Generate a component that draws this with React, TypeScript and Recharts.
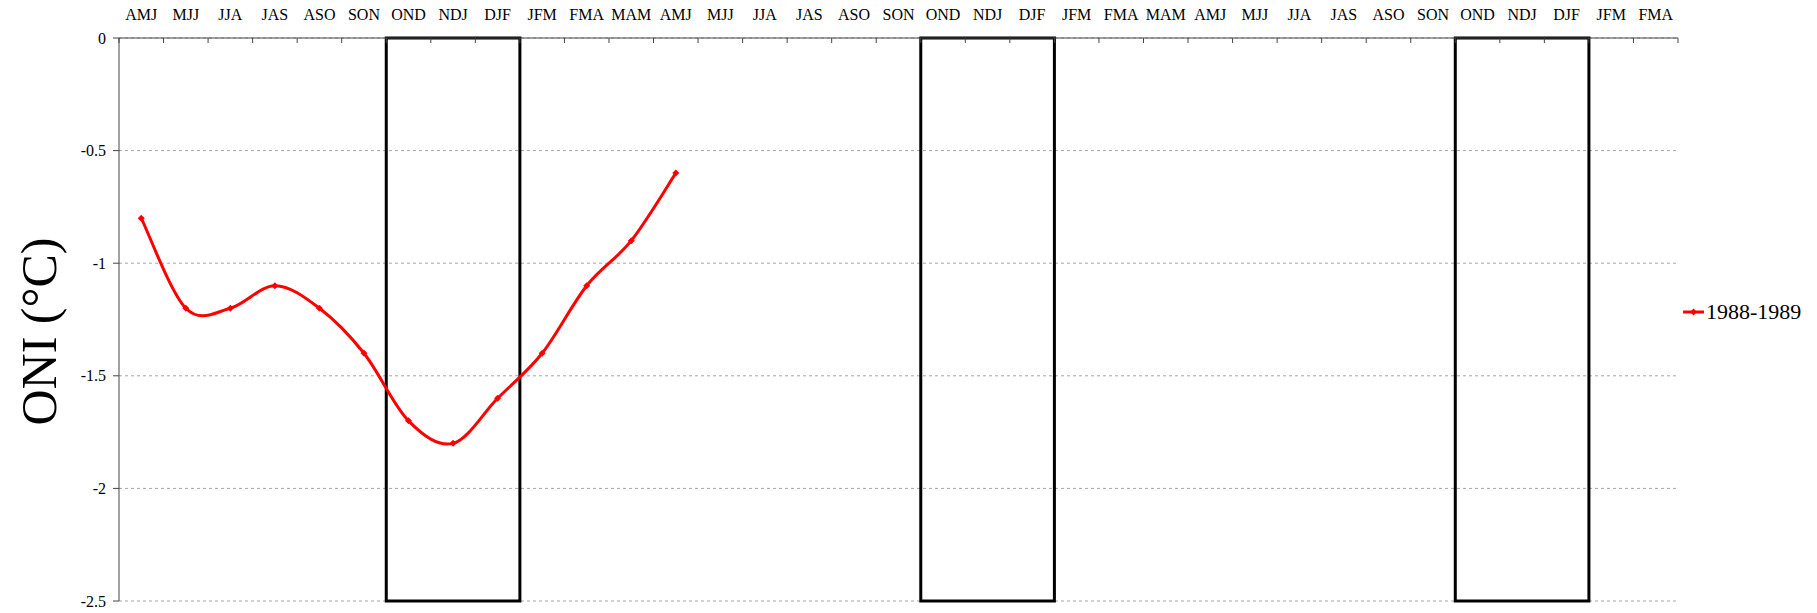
import React from 'react'
import { ComposedChart, Line, XAxis, YAxis, CartesianGrid, Legend, ReferenceArea } from 'recharts'

document.body.style.margin = '0'

const seasons = [
  'AMJ', 'MJJ', 'JJA', 'JAS', 'ASO', 'SON', 'OND', 'NDJ', 'DJF', 'JFM', 'FMA', 'MAM',
  'AMJ', 'MJJ', 'JJA', 'JAS', 'ASO', 'SON', 'OND', 'NDJ', 'DJF', 'JFM', 'FMA', 'MAM',
  'AMJ', 'MJJ', 'JJA', 'JAS', 'ASO', 'SON', 'OND', 'NDJ', 'DJF', 'JFM', 'FMA',
]

// 1988-1989 ONI values, AMJ 1988 .. AMJ 1989
const oni8889 = [-0.8, -1.2, -1.2, -1.1, -1.2, -1.4, -1.7, -1.8, -1.6, -1.4, -1.1, -0.9, -0.6]

const yTicks = [0, -0.5, -1, -1.5, -2, -2.5]

// OND..DJF windows (start index, end index)
const winterBoxes = [[6, 8], [18, 20], [30, 32]]

const data = seasons.map((s, i) => ({ idx: i, season: s, v8889: i < oni8889.length ? oni8889[i] : null }))

const W = 1817
const H = 613
const LEFT = 119
const RIGHT = 139
const TOP = 38
const BOTTOM = 12
const bw = (W - LEFT - RIGHT) / seasons.length
const FONT = '"Liberation Serif", "Times New Roman", serif'

// excel-ish smoothed line (catmull-rom as bezier)
const excelCurve = (context: any) => {
  let pts: number[][] = []
  return {
    areaStart() {},
    areaEnd() {},
    lineStart() { pts = [] },
    point(x: number, y: number) { pts.push([+x, +y]) },
    lineEnd() {
      const n = pts.length
      if (!n) return
      context.moveTo(pts[0][0], pts[0][1])
      for (let i = 0; i < n - 1; i++) {
        const p0 = pts[Math.max(i - 1, 0)], p1 = pts[i], p2 = pts[i + 1], p3 = pts[Math.min(i + 2, n - 1)]
        context.bezierCurveTo(
          p1[0] + (p2[0] - p0[0]) / 6, p1[1] + (p2[1] - p0[1]) / 6,
          p2[0] - (p3[0] - p1[0]) / 6, p2[1] - (p3[1] - p1[1]) / 6,
          p2[0], p2[1])
      }
    },
  }
}

const Diamond = ({ cx, cy }: any) => {
  if (cx == null || cy == null) return null
  const r = 3.5
  return <path d={`M${cx},${cy - r}L${cx + r},${cy}L${cx},${cy + r}L${cx - r},${cy}Z`} fill="#ff0000" />
}

const SeasonTick = ({ x, payload, index }: any) => {
  const label = seasons[payload.value]
  return (
    <g>
      <text x={x} y={20} textAnchor="middle" fontSize={16} fontFamily={FONT} fill="#000">{label}</text>
      <line x1={x - bw / 2} x2={x - bw / 2} y1={TOP} y2={TOP + 5} stroke="#444" />
      {index === seasons.length - 1 && <line x1={x + bw / 2} x2={x + bw / 2} y1={TOP} y2={TOP + 5} stroke="#444" />}
    </g>
  )
}

const renderLegend = () => (
  <div style={{ display: 'flex', alignItems: 'center', fontFamily: FONT, fontSize: 22, color: '#000' }}>
    <svg width={22} height={10} style={{ marginRight: 1 }}>
      <line x1={0} x2={21} y1={5} y2={5} stroke="#ff0000" strokeWidth={3} />
      <path d="M10.5,1.5L14,5L10.5,8.5L7,5Z" fill="#ff0000" />
    </svg>
    <span>1988-1989</span>
  </div>
)

const App: React.FC = () => {
  return (
    <ComposedChart width={W} height={H} data={data}
      margin={{ top: 0, right: RIGHT, bottom: BOTTOM, left: 0 }}>
      <CartesianGrid vertical={false} strokeDasharray="3 3" stroke="#a6a6a6" />
      <XAxis dataKey="idx" type="category" scale="band" orientation="top" height={TOP} interval={0}
        axisLine={{ stroke: '#444' }} tickLine={false} tick={<SeasonTick />} />
      <YAxis domain={[-2.5, 0]} ticks={yTicks} width={LEFT} interval={0}
        axisLine={{ stroke: '#444' }} tickLine={{ stroke: '#444' }} tickSize={6} tickMargin={7}
        tick={{ fontSize: 16, fontFamily: FONT, fill: '#000' }}
        label={{ value: 'ONI (°C)', angle: -90, position: 'insideLeft', offset: 0,
          style: { fontSize: 50, fontFamily: FONT, fill: '#000', textAnchor: 'middle' }, dx: 38, dy: 12 }} />
      {winterBoxes.map(([a, b]) => (
        <ReferenceArea key={a} x1={a} x2={b} y1={0} y2={-2.5} fill="none" fillOpacity={0}
          stroke="#000" strokeWidth={3} />
      ))}
      <Legend content={renderLegend} layout="horizontal" verticalAlign="middle" align="center"
        wrapperStyle={{ position: 'absolute', left: 1683, top: 299, width: 'auto' }} />
      <Line dataKey="v8889" name="1988-1989" type={excelCurve as any} stroke="#ff0000" strokeWidth={3}
        dot={<Diamond />} activeDot={false} isAnimationActive={false} connectNulls={false} />
    </ComposedChart>
  )
}

export default App
